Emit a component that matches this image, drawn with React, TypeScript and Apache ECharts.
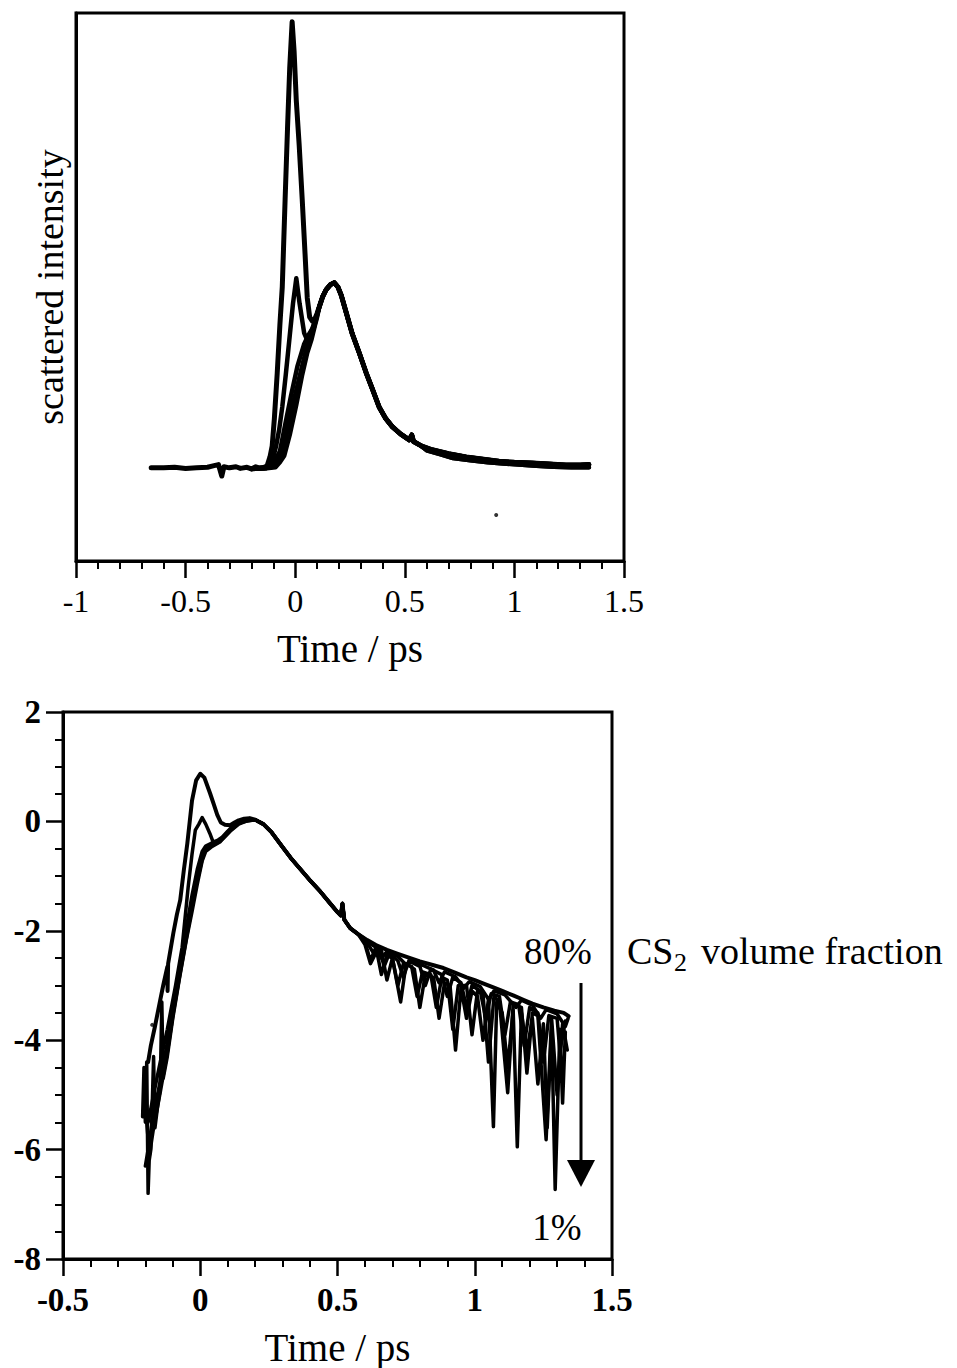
import React, { useEffect, useRef } from "react";
import * as echarts from "echarts";

// ---------- axis ticks ----------
const topXTicks = [-1, -0.5, 0, 0.5, 1, 1.5];
const bottomXTicks = [-0.5, 0, 0.5, 1, 1.5];
const bottomYTicks = [-8, -6, -4, -2, 0, 2];
const topYRange = [0, 10];

// ---------- top panel: scattered intensity (arb. units) ----------
const topBaseline80 = [
  [-0.657, 1.7], [-0.6, 1.7], [-0.55, 1.71], [-0.5, 1.69], [-0.45, 1.7], [-0.4, 1.71],
  [-0.37, 1.74], [-0.35, 1.76], [-0.34, 1.62], [-0.335, 1.55], [-0.325, 1.72], [-0.3, 1.7],
  [-0.27, 1.72], [-0.25, 1.69], [-0.22, 1.71], [-0.2, 1.68], [-0.18, 1.72], [-0.16, 1.69], [-0.14, 1.71],
];
const topRise80 = [
  [-0.128, 1.74], [-0.115, 1.9], [-0.105, 2.1], [-0.095, 2.6], [-0.082, 3.43], [-0.07, 4.3],
  [-0.059, 5.0], [-0.046, 6.6], [-0.035, 7.9], [-0.025, 9.0], [-0.014, 9.84], [-0.005, 9.3],
  [0.005, 8.4], [0.018, 7.6], [0.032, 6.6], [0.045, 5.6], [0.055, 4.8], [0.066, 4.45],
  [0.078, 4.38], [0.09, 4.42], [0.1, 4.52],
];
const topRise2 = [
  [-0.2, 1.69], [-0.16, 1.7], [-0.135, 1.71], [-0.119, 1.74], [-0.1, 1.9], [-0.087, 2.1],
  [-0.073, 2.4], [-0.059, 2.81], [-0.043, 3.4], [-0.027, 4.03], [-0.01, 4.7], [0.005, 5.16],
  [0.02, 4.7], [0.041, 4.16], [0.055, 4.03], [0.07, 4.15], [0.087, 4.34], [0.1, 4.5],
];
const topRise3 = [
  [-0.2, 1.69], [-0.15, 1.7], [-0.11, 1.73], [-0.09, 1.85], [-0.07, 2.0], [-0.045, 2.5],
  [-0.02, 3.0], [0.01, 3.55], [0.04, 3.95], [0.06, 4.12], [0.08, 4.25], [0.1, 4.5],
];
const topRise4 = [
  [-0.2, 1.68], [-0.14, 1.69], [-0.1, 1.72], [-0.08, 1.82], [-0.06, 1.97], [-0.035, 2.4],
  [-0.005, 2.95], [0.025, 3.45], [0.05, 3.85], [0.07, 4.08], [0.087, 4.28], [0.1, 4.48],
];
const topRise5 = [
  [-0.2, 1.68], [-0.13, 1.69], [-0.09, 1.71], [-0.07, 1.8], [-0.05, 1.92], [-0.025, 2.3],
  [0.005, 2.85], [0.032, 3.4], [0.055, 3.8], [0.075, 4.05], [0.09, 4.3], [0.1, 4.45],
];
const topTail = [
  [0.11, 4.64], [0.125, 4.82], [0.141, 4.95], [0.16, 5.04], [0.178, 5.08], [0.195, 5.0],
  [0.21, 4.85], [0.233, 4.53], [0.26, 4.15], [0.292, 3.8], [0.324, 3.43], [0.351, 3.15],
  [0.383, 2.81], [0.413, 2.6], [0.443, 2.45], [0.48, 2.32], [0.52, 2.21], [0.532, 2.3],
  [0.54, 2.18], [0.575, 2.1], [0.625, 2.03], [0.7, 1.96], [0.78, 1.9], [0.85, 1.86],
  [0.93, 1.82], [1.0, 1.8], [1.08, 1.79], [1.16, 1.77], [1.235, 1.75], [1.3, 1.75], [1.34, 1.76],
];
const topTailLow = [
  [0.6, 2.02], [0.66, 1.95], [0.72, 1.88], [0.8, 1.84], [0.88, 1.8], [0.95, 1.78],
  [1.02, 1.76], [1.1, 1.74], [1.18, 1.72], [1.26, 1.71], [1.34, 1.71],
];
const topStray = [[0.917, 0.84]];

// ---------- bottom panel: log intensity ----------
const botRise80 = [
  [-0.19, -4.4], [-0.18, -4.1], [-0.165, -3.75], [-0.146, -3.27], [-0.135, -3.0], [-0.12, -2.66],
  [-0.119, -3.1], [-0.117, -2.6], [-0.098, -2.04], [-0.085, -1.7], [-0.073, -1.44], [-0.06, -0.9],
  [-0.047, -0.4], [-0.03, 0.38], [-0.015, 0.75], [0.0, 0.87], [0.015, 0.8], [0.036, 0.51],
  [0.05, 0.3], [0.062, 0.12], [0.075, -0.02], [0.09, -0.06], [0.109, -0.07], [0.125, -0.02],
  [0.14, 0.02], [0.16, 0.05], [0.18, 0.06],
];
const botRise2 = [
  [-0.19, -5.5], [-0.17, -5.0], [-0.15, -4.5], [-0.12, -3.8], [-0.09, -3.0], [-0.066, -2.3],
  [-0.044, -1.2], [-0.03, -0.6], [-0.018, -0.16], [-0.005, -0.05], [0.007, 0.07], [0.02, -0.05],
  [0.035, -0.22], [0.047, -0.38], [0.065, -0.34], [0.08, -0.29], [0.1, -0.18], [0.12, -0.08], [0.14, -0.02],
];
const botRise3 = [
  [-0.2, -6.3], [-0.19, -6.0], [-0.175, -5.5], [-0.16, -5.1], [-0.146, -4.75], [-0.12, -4.05],
  [-0.098, -3.35], [-0.073, -2.6], [-0.047, -1.85], [-0.03, -1.35], [-0.011, -0.88], [0.007, -0.55],
  [0.02, -0.45], [0.04, -0.4], [0.06, -0.37], [0.073, -0.33], [0.09, -0.25], [0.109, -0.15],
  [0.14, -0.03], [0.16, 0.02],
];
const botRise4 = [
  [-0.205, -5.3], [-0.2, -4.6], [-0.195, -5.5], [-0.185, -6.1], [-0.17, -5.6], [-0.155, -5.2],
  [-0.146, -4.96], [-0.12, -4.23], [-0.098, -3.5], [-0.073, -2.77], [-0.047, -2.04], [-0.03, -1.57],
  [-0.011, -1.08], [0.007, -0.7], [0.018, -0.52], [0.04, -0.45], [0.073, -0.36], [0.109, -0.17],
  [0.14, -0.04], [0.17, 0.02],
];
const botRise1pct = [
  [-0.21, -5.4], [-0.205, -4.5], [-0.2, -5.5], [-0.195, -4.4], [-0.19, -6.8], [-0.186, -6.2],
  [-0.18, -6.0], [-0.175, -5.2], [-0.17, -4.3], [-0.165, -5.6], [-0.155, -5.2], [-0.146, -4.9],
  [-0.14, -3.3], [-0.135, -4.7], [-0.12, -4.3], [-0.1, -3.6], [-0.075, -2.85], [-0.05, -2.15],
  [-0.03, -1.65], [-0.011, -1.15], [0.007, -0.72], [0.02, -0.55], [0.04, -0.47], [0.073, -0.37],
  [0.109, -0.18], [0.14, -0.05], [0.17, 0.01],
];
const botMid = [
  [0.2, 0.03], [0.23, -0.05], [0.26, -0.2], [0.3, -0.47], [0.33, -0.67], [0.364, -0.87],
  [0.4, -1.08], [0.437, -1.28], [0.47, -1.48], [0.5, -1.66], [0.512, -1.72], [0.518, -1.5],
  [0.525, -1.8], [0.546, -1.95], [0.575, -2.06],
];
const botTail80 = [
  [0.608, -2.17], [0.64, -2.26], [0.68, -2.35], [0.72, -2.42], [0.765, -2.5], [0.8, -2.56],
  [0.85, -2.63], [0.886, -2.68], [0.93, -2.77], [0.97, -2.85], [1.0, -2.9], [1.03, -2.96],
  [1.07, -3.04], [1.1, -3.1], [1.14, -3.18], [1.177, -3.26], [1.21, -3.33], [1.25, -3.4],
  [1.29, -3.46], [1.324, -3.5], [1.342, -3.56],
];
const botTail2 = [
  [0.61, -2.2], [0.64, -2.3], [0.66, -2.5], [0.68, -2.38], [0.72, -2.47], [0.75, -2.62],
  [0.77, -2.55], [0.81, -2.63], [0.85, -2.72], [0.87, -2.95], [0.89, -2.75], [0.93, -2.84],
  [0.96, -3.05], [0.98, -2.93], [1.02, -3.02], [1.05, -3.25], [1.07, -3.1], [1.11, -3.17],
  [1.15, -3.4], [1.17, -3.27], [1.21, -3.36], [1.24, -3.6], [1.26, -3.44], [1.3, -3.52],
  [1.33, -3.75], [1.34, -3.6],
];
const botTail3 = [
  [0.6, -2.15], [0.63, -2.4], [0.65, -2.3], [0.67, -2.65], [0.69, -2.4], [0.72, -2.55],
  [0.74, -2.85], [0.76, -2.55], [0.8, -2.65], [0.82, -3.0], [0.84, -2.7], [0.88, -2.8],
  [0.9, -3.2], [0.92, -2.85], [0.95, -2.95], [0.97, -3.4], [0.99, -3.0], [1.02, -3.1],
  [1.04, -3.6], [1.06, -3.15], [1.09, -3.2], [1.11, -3.9], [1.13, -3.3], [1.16, -3.35],
  [1.18, -4.1], [1.2, -3.4], [1.23, -3.5], [1.25, -4.4], [1.27, -3.55], [1.3, -3.6],
  [1.31, -4.2], [1.33, -3.65],
];
const botTail4 = [
  [0.6, -2.2], [0.62, -2.55], [0.64, -2.3], [0.66, -2.8], [0.68, -2.45], [0.7, -2.5],
  [0.72, -3.0], [0.74, -2.6], [0.77, -2.65], [0.79, -3.2], [0.81, -2.75], [0.84, -2.8],
  [0.86, -3.4], [0.88, -2.85], [0.9, -2.9], [0.92, -3.8], [0.94, -3.0], [0.97, -3.0],
  [0.99, -3.9], [1.01, -3.1], [1.03, -3.15], [1.05, -4.4], [1.07, -3.2], [1.09, -3.3],
  [1.12, -4.96], [1.14, -3.35], [1.17, -3.4], [1.19, -4.6], [1.21, -3.5], [1.23, -3.55],
  [1.26, -5.82], [1.28, -3.6], [1.3, -5.0], [1.32, -3.7], [1.337, -4.18],
];
const botTail1pct = [
  [0.6, -2.25], [0.62, -2.6], [0.64, -2.4], [0.66, -2.35], [0.68, -2.9], [0.7, -2.5],
  [0.73, -3.3], [0.75, -2.6], [0.78, -2.7], [0.8, -3.4], [0.82, -2.8], [0.85, -2.85],
  [0.87, -3.6], [0.89, -2.95], [0.91, -3.0], [0.93, -4.18], [0.95, -3.05], [0.97, -3.6],
  [0.99, -3.1], [1.01, -3.2], [1.03, -4.0], [1.05, -3.25], [1.068, -5.58], [1.08, -3.3],
  [1.1, -3.5], [1.12, -4.5], [1.14, -3.45], [1.155, -5.95], [1.17, -3.5], [1.19, -4.2],
  [1.21, -3.6], [1.23, -4.8], [1.25, -3.7], [1.264, -5.6], [1.28, -3.75], [1.293, -6.73],
  [1.31, -3.8], [1.32, -5.15], [1.33, -3.85],
];
const botStray = [[-0.175, -3.72]];

const SERIF = "'Liberation Serif', 'Times New Roman', serif";

export default function App() {
  const ref = useRef<HTMLDivElement>(null);

  useEffect(() => {
    if (!ref.current) return;
    const chart = echarts.init(ref.current, undefined, { renderer: "svg" });

    const line = (name: string, data: number[][], idx: number, w: number) => ({
      type: "line",
      name,
      data,
      xAxisIndex: idx,
      yAxisIndex: idx,
      showSymbol: false,
      symbol: "none",
      silent: true,
      lineStyle: { color: "#000", width: w, join: "round", cap: "round" },
      itemStyle: { color: "#000" },
      z: 3,
    });
    const dots = (data: number[][], idx: number) => ({
      type: "scatter",
      data,
      xAxisIndex: idx,
      yAxisIndex: idx,
      symbolSize: 4,
      silent: true,
      itemStyle: { color: "#000" },
    });

    const xAxisBase = (ticks: number[], gridIndex: number, nameGap: number, bold: boolean) => ({
      type: "value",
      gridIndex,
      min: ticks[0],
      max: ticks[ticks.length - 1],
      interval: 0.5,
      axisLine: { show: true, onZero: false, lineStyle: { color: "#000", width: 3 } },
      axisTick: { show: true, inside: false, length: 17, lineStyle: { color: "#000", width: 2.5 } },
      minorTick: { show: true, splitNumber: 5, length: 8, lineStyle: { color: "#000", width: 2 } },
      splitLine: { show: false },
      minorSplitLine: { show: false },
      axisLabel: {
        color: "#000",
        fontFamily: SERIF,
        fontSize: bold ? 33 : 32,
        fontWeight: bold ? "bold" : "normal",
        margin: 24,
      },
      name: "Time / ps",
      nameLocation: "middle",
      nameGap,
      nameTextStyle: { color: "#000", fontFamily: SERIF, fontSize: 39 },
    });

    const txtStyle = (text: string, size: number, align = "center") => ({
      text,
      font: `${size}px ${SERIF}`,
      fill: "#000",
      align,
      textAlign: align,
      verticalAlign: "middle",
      textVerticalAlign: "middle",
    });

    const option: any = {
      animation: false,
      backgroundColor: "#fff",
      grid: [
        { left: 76, top: 13, width: 548, height: 548, show: true, borderColor: "#000", borderWidth: 3 },
        { left: 63, top: 712, width: 549, height: 548, show: true, borderColor: "#000", borderWidth: 3 },
      ],
      xAxis: [xAxisBase(topXTicks, 0, 68, false), xAxisBase(bottomXTicks, 1, 69, true)],
      yAxis: [
        {
          type: "value",
          gridIndex: 0,
          min: topYRange[0],
          max: topYRange[1],
          axisLine: { show: true, onZero: false, lineStyle: { color: "#000", width: 3 } },
          axisTick: { show: false },
          axisLabel: { show: false },
          splitLine: { show: false },
        },
        {
          type: "value",
          gridIndex: 1,
          min: bottomYTicks[0],
          max: bottomYTicks[bottomYTicks.length - 1],
          interval: 2,
          axisLine: { show: true, onZero: false, lineStyle: { color: "#000", width: 3 } },
          axisTick: { show: true, inside: false, length: 17, lineStyle: { color: "#000", width: 2.5 } },
          minorTick: { show: true, splitNumber: 4, length: 8, lineStyle: { color: "#000", width: 2 } },
          splitLine: { show: false },
          minorSplitLine: { show: false },
          axisLabel: { color: "#000", fontFamily: SERIF, fontSize: 33, fontWeight: "bold", margin: 22 },
        },
      ],
      series: [
        line("80%", [...topBaseline80, ...topRise80, ...topTail], 0, 5),
        line("s2", [...topRise2, ...topTail], 0, 4.5),
        line("s3", [...topRise3, ...topTail], 0, 4.5),
        line("s4", [...topRise4, ...topTail.filter((p) => p[0] < 0.6), ...topTailLow], 0, 4.5),
        line("1%", [...topRise5, ...topTail.filter((p) => p[0] < 0.6), ...topTailLow], 0, 4.5),
        dots(topStray, 0),
        line("b80%", [...botRise80, ...botMid, ...botTail80], 1, 4),
        line("b2", [...botRise2, ...botMid, ...botTail2], 1, 3.5),
        line("b3", [...botRise3, ...botMid, ...botTail3], 1, 3.5),
        line("b4", [...botRise4, ...botMid, ...botTail4], 1, 3.5),
        line("b1%", [...botRise1pct, ...botMid, ...botTail1pct], 1, 3.5),
        dots(botStray, 1),
      ],
      graphic: [
        {
          type: "text",
          x: 50,
          y: 287,
          rotation: Math.PI / 2,
          style: txtStyle("scattered intensity", 38),
        },
        { type: "text", x: 558, y: 951, style: txtStyle("80%", 37) },
        { type: "text", x: 557, y: 1227, style: txtStyle("1%", 37) },
        { type: "text", x: 627, y: 951, style: txtStyle("CS", 38, "left") },
        { type: "text", x: 674, y: 962, style: txtStyle("2", 26, "left") },
        { type: "text", x: 701, y: 951, style: txtStyle("volume fraction", 38, "left") },
        {
          type: "line",
          shape: { x1: 581, y1: 983, x2: 581, y2: 1165 },
          style: { stroke: "#000", lineWidth: 3 },
        },
        {
          type: "polygon",
          shape: { points: [[567, 1160], [595, 1160], [581, 1187]] },
          style: { fill: "#000" },
        },
      ],
    };

    chart.setOption(option);
    return () => chart.dispose();
  }, []);

  return (
    <div
      ref={ref}
      style={{ position: "absolute", left: 0, top: 0, width: 957, height: 1368, background: "#fff" }}
    />
  );
}
